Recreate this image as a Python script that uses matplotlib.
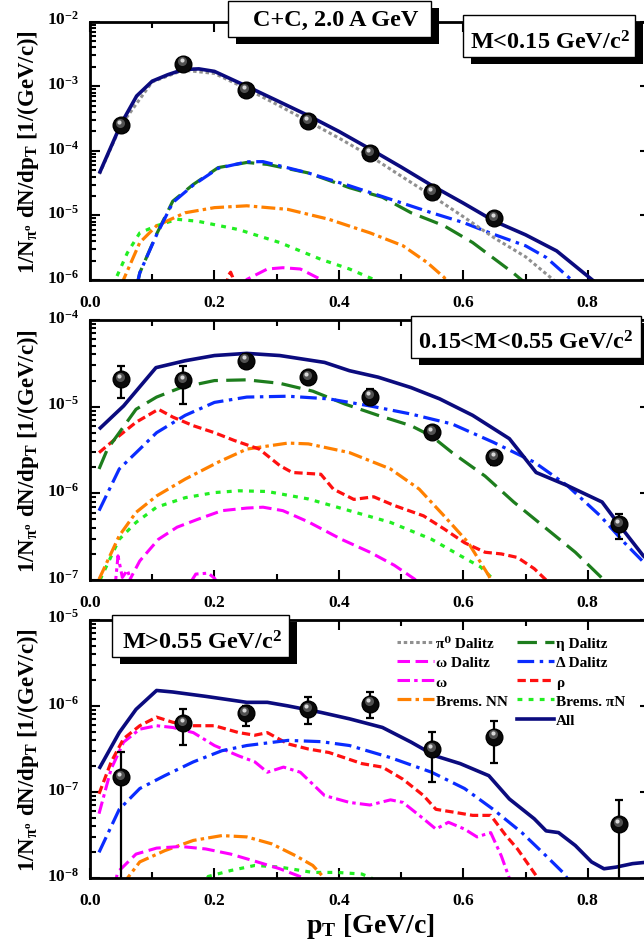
import matplotlib
matplotlib.use("Agg")
import matplotlib.pyplot as plt
import matplotlib.transforms as mtransforms
from matplotlib.lines import Line2D
from matplotlib.patches import Rectangle
from matplotlib.ticker import FixedLocator, LogLocator, LogFormatterMathtext, NullFormatter, FormatStrFormatter

plt.rcParams['font.family'] = ['Liberation Serif', 'DejaVu Serif']
plt.rcParams['font.weight'] = 'bold'
plt.rcParams['mathtext.fontset'] = 'custom'
plt.rcParams['mathtext.rm'] = 'Liberation Serif:bold'
plt.rcParams['mathtext.it'] = 'Liberation Serif:bold'
plt.rcParams['mathtext.bf'] = 'Liberation Serif:bold'
plt.rcParams['axes.unicode_minus'] = False
plt.rcParams['lines.scale_dashes'] = False

# ---------------- data ----------------
data_pt = [0.05, 0.15, 0.25, 0.35, 0.45, 0.55, 0.65, 0.85]

# Panel 1: M < 0.15 GeV/c^2
p1_data_pt = [0.05, 0.15, 0.25, 0.35, 0.45, 0.55, 0.65]
p1_data_y = [2.48e-4, 2.24e-3, 8.75e-4, 2.9e-4, 9.2e-5, 2.3e-5, 9.1e-6]

p1_all_pt = [0.015, 0.05, 0.075, 0.1, 0.125, 0.15, 0.175, 0.2, 0.25, 0.3, 0.35, 0.4, 0.45, 0.5, 0.55, 0.6, 0.65, 0.7, 0.75, 0.81]
p1_all_y = [4.47e-5, 2.63e-4, 7.08e-4, 1.20e-3, 1.51e-3, 1.82e-3, 1.86e-3, 1.70e-3, 1.02e-3, 6.03e-4, 3.55e-4, 2.0e-4, 1.07e-4, 5.62e-5, 2.88e-5, 1.55e-5, 8.13e-6, 5.01e-6, 2.82e-6, 9.55e-7]
p1_pi0_pt = [0.015, 0.05, 0.1, 0.15, 0.2, 0.25, 0.3, 0.35, 0.4, 0.45, 0.5, 0.55, 0.6, 0.65, 0.7, 0.745, 0.77]
p1_pi0_y = [4.37e-5, 2.51e-4, 1.17e-3, 1.78e-3, 1.58e-3, 9.33e-4, 5.25e-4, 2.88e-4, 1.58e-4, 8.32e-5, 4.07e-5, 2.0e-5, 9.55e-6, 4.47e-6, 2.29e-6, 1.0e-6, 6.3e-7]
p1_eta_pt = [0.075, 0.08, 0.107, 0.133, 0.166, 0.206, 0.252, 0.285, 0.35, 0.417, 0.47, 0.516, 0.569, 0.615, 0.68, 0.70]
p1_eta_y = [7.9e-7, 1.29e-6, 5.13e-6, 1.66e-5, 3.02e-5, 5.5e-5, 6.61e-5, 6.17e-5, 4.57e-5, 2.69e-5, 1.91e-5, 1.10e-5, 6.92e-6, 3.80e-6, 1.29e-6, 8.9e-7]
p1_delta_pt = [0.075, 0.08, 0.107, 0.133, 0.166, 0.206, 0.252, 0.278, 0.35, 0.417, 0.483, 0.549, 0.60, 0.648, 0.70, 0.733, 0.773, 0.79]
p1_delta_y = [7.9e-7, 1.29e-6, 5.0e-6, 1.58e-5, 2.95e-5, 5.37e-5, 6.76e-5, 6.81e-5, 4.57e-5, 2.88e-5, 1.78e-5, 1.10e-5, 7.76e-6, 5.13e-6, 3.39e-6, 2.24e-6, 1.02e-6, 7.9e-7]
p1_nn_pt = [0.05, 0.054, 0.08, 0.107, 0.153, 0.2, 0.252, 0.318, 0.384, 0.45, 0.503, 0.542, 0.569, 0.58]
p1_nn_y = [7.9e-7, 1.02e-6, 3.8e-6, 6.92e-6, 1.10e-5, 1.32e-5, 1.41e-5, 1.24e-5, 8.71e-6, 5.37e-6, 3.39e-6, 1.86e-6, 1.10e-6, 7.9e-7]
p1_pin_pt = [0.038, 0.041, 0.06, 0.08, 0.107, 0.14, 0.173, 0.239, 0.305, 0.371, 0.417, 0.456, 0.47]
p1_pin_y = [7.9e-7, 1.02e-6, 2.63e-6, 5.37e-6, 6.92e-6, 8.71e-6, 8.13e-6, 6.03e-6, 3.8e-6, 2.09e-6, 1.48e-6, 1.02e-6, 7.9e-7]
p1_omd_pt = [0.245, 0.252, 0.285, 0.31, 0.338, 0.371, 0.38]
p1_omd_y = [7.9e-7, 1.02e-6, 1.48e-6, 1.55e-6, 1.48e-6, 1.02e-6, 7.9e-7]
p1_rho_pt = [0.218, 0.223, 0.226, 0.229, 0.233]
p1_rho_y = [7.9e-7, 1.2e-6, 1.32e-6, 1.12e-6, 7.9e-7]

# Panel 2: 0.15 < M < 0.55 GeV/c^2
p2_data_y = [2.08e-5, 2.03e-5, 3.4e-5, 2.18e-5, 1.31e-5, 5.06e-6, 2.6e-6, 4.43e-7]
p2_data_hi = [2.97e-5, 2.92e-5, 4.07e-5, 2.4e-5, 1.6e-5, 5.6e-6, 3.1e-6, 5.78e-7]
p2_data_lo = [1.25e-5, 1.07e-5, 2.85e-5, 1.95e-5, 1.07e-5, 4.5e-6, 2.1e-6, 2.97e-7]

p2_all_pt = [0.0145, 0.054, 0.106, 0.153, 0.2, 0.252, 0.305, 0.377, 0.417, 0.463, 0.516, 0.562, 0.615, 0.674, 0.717, 0.767, 0.823, 0.85, 0.889, 0.9]
p2_all_y = [5.5e-6, 1.02e-5, 2.82e-5, 3.39e-5, 3.89e-5, 4.12e-5, 3.89e-5, 3.24e-5, 2.6e-5, 2.19e-5, 1.66e-5, 1.23e-5, 7.94e-6, 4.27e-6, 1.74e-6, 1.23e-6, 7.94e-7, 4.37e-7, 1.91e-7, 1.6e-7]
p2_eta_pt = [0.0145, 0.028, 0.047, 0.074, 0.107, 0.146, 0.2, 0.252, 0.305, 0.358, 0.41, 0.463, 0.516, 0.549, 0.582, 0.635, 0.681, 0.727, 0.78, 0.826, 0.84]
p2_eta_y = [1.91e-6, 3.24e-6, 5.01e-6, 9.33e-6, 1.29e-5, 1.66e-5, 2.0e-5, 2.04e-5, 1.86e-5, 1.51e-5, 1.07e-5, 7.94e-6, 6.03e-6, 4.57e-6, 2.95e-6, 1.58e-6, 7.94e-7, 4.27e-7, 2.09e-7, 1.0e-7, 7.9e-8]
p2_delta_pt = [0.0145, 0.047, 0.08, 0.107, 0.153, 0.2, 0.252, 0.318, 0.384, 0.45, 0.516, 0.582, 0.648, 0.714, 0.767, 0.82, 0.859, 0.9]
p2_delta_y = [6.31e-7, 1.91e-6, 3.24e-6, 5.01e-6, 7.94e-6, 1.12e-5, 1.29e-5, 1.32e-5, 1.23e-5, 1.02e-5, 8.22e-6, 6.31e-6, 3.89e-6, 2.29e-6, 1.23e-6, 5.5e-7, 2.69e-7, 1.35e-7]
p2_rho_pt = [0.0145, 0.047, 0.074, 0.11, 0.133, 0.166, 0.2, 0.232, 0.272, 0.305, 0.325, 0.371, 0.391, 0.424, 0.456, 0.489, 0.536, 0.569, 0.602, 0.635, 0.661, 0.687, 0.714, 0.733, 0.74]
p2_rho_y = [2.95e-6, 4.62e-6, 6.61e-6, 9.33e-6, 7.59e-6, 6.03e-6, 5.01e-6, 4.07e-6, 3.24e-6, 2.09e-6, 1.74e-6, 1.66e-6, 1.12e-6, 8.51e-7, 9.12e-7, 7.24e-7, 5.5e-7, 3.89e-7, 2.69e-7, 2.09e-7, 2.0e-7, 1.82e-7, 1.35e-7, 1.0e-7, 7.9e-8]
p2_nn_pt = [0.0145, 0.047, 0.074, 0.107, 0.153, 0.206, 0.252, 0.318, 0.351, 0.417, 0.483, 0.529, 0.569, 0.608, 0.641, 0.65]
p2_nn_y = [1.02e-7, 3.24e-7, 6.03e-7, 9.33e-7, 1.46e-6, 2.29e-6, 3.24e-6, 3.8e-6, 3.72e-6, 2.95e-6, 1.91e-6, 1.12e-6, 5.5e-7, 2.69e-7, 1.12e-7, 7.9e-8]
p2_pin_pt = [0.016, 0.047, 0.074, 0.107, 0.153, 0.2, 0.239, 0.285, 0.351, 0.417, 0.483, 0.549, 0.595, 0.628, 0.648, 0.66]
p2_pin_y = [1.0e-7, 2.95e-7, 4.62e-7, 6.92e-7, 8.91e-7, 1.02e-6, 1.07e-6, 1.05e-6, 8.61e-7, 6.31e-7, 4.62e-7, 2.95e-7, 1.91e-7, 1.41e-7, 1.02e-7, 7.9e-8]
p2_omd_pt = [0.06, 0.08, 0.11, 0.14, 0.173, 0.212, 0.252, 0.278, 0.31, 0.351, 0.404, 0.45, 0.489, 0.522, 0.535]
p2_omd_y = [8.9e-8, 1.66e-7, 2.95e-7, 4.07e-7, 5.01e-7, 6.31e-7, 6.76e-7, 6.92e-7, 6.31e-7, 4.68e-7, 2.95e-7, 2.09e-7, 1.48e-7, 1.02e-7, 7.9e-8]
p2_om_pt = [0.04, 0.045, 0.052, 0.06, 0.068, 0.08, 0.15, 0.16, 0.17, 0.19, 0.2, 0.21]
p2_om_y = [8e-8, 1.9e-7, 1.07e-7, 1.3e-7, 9e-8, 5e-8, 5e-8, 9e-8, 1.17e-7, 1.2e-7, 1.05e-7, 8e-8]

# Panel 3: M > 0.55 GeV/c^2
p3_data_y = [1.49e-7, 6.3e-7, 8.2e-7, 9.2e-7, 1.06e-6, 3.16e-7, 4.4e-7, 4.26e-8]
p3_data_hi = [2.9e-7, 9.2e-7, 1.0e-6, 1.26e-6, 1.44e-6, 5.0e-7, 6.7e-7, 8.2e-8]
p3_data_lo = [1e-9, 3.5e-7, 5.8e-7, 6.2e-7, 7.2e-7, 1.32e-7, 2.18e-7, 1e-9]

p3_all_pt = [0.0145, 0.047, 0.074, 0.107, 0.133, 0.186, 0.252, 0.285, 0.318, 0.371, 0.417, 0.47, 0.516, 0.555, 0.595, 0.641, 0.674, 0.714, 0.733, 0.753, 0.78, 0.806, 0.826, 0.846, 0.872, 0.9]
p3_all_y = [1.86e-7, 4.9e-7, 9.12e-7, 1.51e-6, 1.45e-6, 1.29e-6, 1.1e-6, 1.1e-6, 1.0e-6, 8.41e-7, 7.08e-7, 5.62e-7, 3.8e-7, 2.63e-7, 2.14e-7, 1.55e-7, 8.32e-8, 4.9e-8, 3.55e-8, 3.39e-8, 2.4e-8, 1.55e-8, 1.29e-8, 1.35e-8, 1.48e-8, 1.55e-8]
p3_rho_pt = [0.0145, 0.034, 0.054, 0.08, 0.107, 0.133, 0.166, 0.2, 0.239, 0.265, 0.285, 0.318, 0.351, 0.384, 0.437, 0.47, 0.503, 0.536, 0.556, 0.582, 0.615, 0.644, 0.668, 0.687, 0.72, 0.73]
p3_rho_y = [9.55e-8, 2.24e-7, 4.17e-7, 5.89e-7, 7.41e-7, 6.46e-7, 5.89e-7, 5.89e-7, 4.9e-7, 4.57e-7, 4.9e-7, 3.63e-7, 3.16e-7, 2.88e-7, 2.14e-7, 1.95e-7, 1.41e-7, 9.12e-8, 6.31e-8, 5.89e-8, 5.37e-8, 5.37e-8, 3.16e-8, 2.19e-8, 1.0e-8, 7.9e-9]
p3_om_pt = [0.0145, 0.034, 0.054, 0.08, 0.107, 0.133, 0.166, 0.2, 0.239, 0.265, 0.285, 0.311, 0.338, 0.377, 0.417, 0.45, 0.483, 0.503, 0.536, 0.556, 0.576, 0.602, 0.622, 0.644, 0.661, 0.674, 0.68]
p3_om_y = [5.62e-8, 1.86e-7, 3.8e-7, 5.37e-7, 5.89e-7, 5.62e-7, 4.9e-7, 3.47e-7, 2.63e-7, 2.24e-7, 1.7e-7, 1.95e-7, 1.7e-7, 9.12e-8, 7.59e-8, 7.08e-8, 8.13e-8, 7.59e-8, 4.9e-8, 3.72e-8, 4.47e-8, 3.72e-8, 3.02e-8, 3.39e-8, 1.82e-8, 1.0e-8, 7.9e-9]
p3_delta_pt = [0.0145, 0.047, 0.08, 0.12, 0.166, 0.212, 0.252, 0.318, 0.371, 0.417, 0.483, 0.549, 0.602, 0.648, 0.694, 0.733, 0.76, 0.767, 0.775]
p3_delta_y = [2.0e-8, 6.31e-8, 1.1e-7, 1.55e-7, 2.24e-7, 3.02e-7, 3.47e-7, 3.98e-7, 3.85e-7, 3.47e-7, 2.51e-7, 1.7e-7, 1.1e-7, 6.31e-8, 3.39e-8, 1.82e-8, 1.17e-8, 1.0e-8, 7.9e-9]
p3_omd_pt = [0.04, 0.044, 0.074, 0.107, 0.146, 0.186, 0.226, 0.265, 0.305, 0.345, 0.355]
p3_omd_y = [7.9e-9, 1.17e-8, 1.91e-8, 2.24e-8, 2.34e-8, 2.19e-8, 1.91e-8, 1.58e-8, 1.29e-8, 1.0e-8, 7.9e-9]
p3_nn_pt = [0.055, 0.06, 0.08, 0.12, 0.166, 0.212, 0.252, 0.292, 0.331, 0.358, 0.377, 0.385]
p3_nn_y = [7.9e-9, 1.0e-8, 1.55e-8, 2.09e-8, 2.75e-8, 3.13e-8, 3.02e-8, 2.51e-8, 1.82e-8, 1.41e-8, 1.0e-8, 7.9e-9]
p3_pin_pt = [0.18, 0.19, 0.226, 0.265, 0.305, 0.358, 0.397, 0.437, 0.453, 0.46]
p3_pin_y = [7.9e-9, 1.05e-8, 1.23e-8, 1.41e-8, 1.35e-8, 1.17e-8, 1.17e-8, 1.12e-8, 1.0e-8, 7.9e-9]

x_ticks = [0.0, 0.2, 0.4, 0.6, 0.8]
legend_labels = ["\u03c0\u2070 Dalitz", "\u03c9 Dalitz", "\u03c9", "Brems. NN", " ",
                 "\u03b7 Dalitz", "\u0394 Dalitz", "\u03c1", "Brems. \u03c0N", "All"]

# ---------------- styles ----------------
ST = {
    'pi0':   dict(color='#909090', lw=2.2, dashes=(2.5, 2.0)),
    'eta':   dict(color='#1d7d1d', lw=2.3, dashes=(14, 6)),
    'delta': dict(color='#0a2cff', lw=2.3, dashes=(12, 4, 2.5, 4)),
    'omd':   dict(color='#ff00ff', lw=2.2, dashes=(9, 4)),
    'om':    dict(color='#ff00ff', lw=2.2, dashes=(9, 3, 2.5, 3)),
    'rho':   dict(color='#ff1010', lw=2.3, dashes=(6, 3)),
    'nn':    dict(color='#ff8000', lw=2.3, dashes=(10, 3, 2.5, 3)),
    'pin':   dict(color='#22ee22', lw=2.3, dashes=(3.5, 4.5)),
    'all':   dict(color='#0b0b7e', lw=2.6, linestyle='-'),
}

W, H = 644, 945
fig = plt.figure(figsize=(W / 100, H / 100), dpi=100)

def px_rect(x0, y0, x1, y1):
    return [x0 / W, 1 - y1 / H, (x1 - x0) / W, (y1 - y0) / H]

ax1 = fig.add_axes(px_rect(90, 22.7, 650, 281))
ax2 = fig.add_axes(px_rect(90, 321, 650, 581))
ax3 = fig.add_axes(px_rect(90, 620.7, 650, 879.3))

def style_axis(ax, ylo, yhi):
    ax.set_yscale('log')
    ax.set_xlim(0, 0.9)
    ax.set_ylim(ylo, yhi)
    ax.xaxis.set_major_locator(FixedLocator(x_ticks))
    ax.xaxis.set_minor_locator(FixedLocator([0.1, 0.3, 0.5, 0.7, 0.9]))
    ax.xaxis.set_major_formatter(FormatStrFormatter('%.1f'))
    ax.yaxis.set_major_locator(LogLocator(base=10, numticks=20))
    ax.yaxis.set_minor_locator(LogLocator(base=10, subs=range(2, 10), numticks=20))
    ax.yaxis.set_major_formatter(LogFormatterMathtext())
    ax.yaxis.set_minor_formatter(NullFormatter())
    ax.tick_params(which='both', direction='in', top=True, right=True, width=1.5)
    ax.tick_params(which='minor', axis='y', right=False)
    ax.tick_params(which='major', length=7.5)
    ax.tick_params(which='minor', length=4.5)
    ax.tick_params(axis='x', labelsize=12.5, pad=10)
    ax.tick_params(axis='y', labelsize=12.5, pad=8)
    for s in ax.spines.values():
        s.set_linewidth(2.0)
    ax.set_ylabel(r"1/N$_{\pi^o}$ dN/dp$_T$ [1/(GeV/c)]", fontsize=16.5, fontweight='bold')
    ax.yaxis.set_label_coords(-0.088, 0.5)
    off = mtransforms.ScaledTranslation(0, 0.045, fig.dpi_scale_trans)
    for lab in ax.get_yticklabels():
        lab.set_transform(lab.get_transform() + off)

def curve(ax, x, y, key):
    kw = dict(ST[key])
    ax.plot(x, y, solid_capstyle='butt', dash_capstyle='butt', **kw)

def balls(ax, x, y, lo=None, hi=None):
    if lo is not None:
        ylo = [v - l for v, l in zip(y, lo)]
        yhi = [h - v for v, h in zip(y, hi)]
        ax.errorbar(x, y, yerr=[ylo, yhi], fmt='none', ecolor='black', elinewidth=1.6,
                    capsize=3.2, capthick=1.6, zorder=5)
    ax.plot(x, y, 'o', ms=12, color='#0a0a0a', mec='#000000', zorder=6)
    t1 = ax.transData + mtransforms.ScaledTranslation(-0.8 / 72, 1.6 / 72, fig.dpi_scale_trans)
    t2 = ax.transData + mtransforms.ScaledTranslation(-1.3 / 72, 2.4 / 72, fig.dpi_scale_trans)
    ax.plot(x, y, 'o', ms=6.5, color='#5a5a5a', mew=0, transform=t1, zorder=7, alpha=0.9)
    ax.plot(x, y, 'o', ms=3.0, color='#d8d8d8', mew=0, transform=t2, zorder=8)

# Panel 1
style_axis(ax1, 1e-6, 1e-2)
curve(ax1, p1_pin_pt, p1_pin_y, 'pin')
curve(ax1, p1_nn_pt, p1_nn_y, 'nn')
curve(ax1, p1_omd_pt, p1_omd_y, 'omd')
curve(ax1, p1_rho_pt, p1_rho_y, 'rho')
curve(ax1, p1_eta_pt, p1_eta_y, 'eta')
curve(ax1, p1_delta_pt, p1_delta_y, 'delta')
curve(ax1, p1_pi0_pt, p1_pi0_y, 'pi0')
curve(ax1, p1_all_pt, p1_all_y, 'all')
balls(ax1, p1_data_pt, p1_data_y)

# Panel 2
style_axis(ax2, 1e-7, 1e-4)
curve(ax2, p2_pin_pt, p2_pin_y, 'pin')
curve(ax2, p2_nn_pt, p2_nn_y, 'nn')
curve(ax2, p2_omd_pt, p2_omd_y, 'omd')
curve(ax2, p2_om_pt, p2_om_y, 'om')
curve(ax2, p2_rho_pt, p2_rho_y, 'rho')
curve(ax2, p2_eta_pt, p2_eta_y, 'eta')
curve(ax2, p2_delta_pt, p2_delta_y, 'delta')
curve(ax2, p2_all_pt, p2_all_y, 'all')
balls(ax2, data_pt, p2_data_y, p2_data_lo, p2_data_hi)

# Panel 3
style_axis(ax3, 1e-8, 1e-5)
curve(ax3, p3_pin_pt, p3_pin_y, 'pin')
curve(ax3, p3_nn_pt, p3_nn_y, 'nn')
curve(ax3, p3_omd_pt, p3_omd_y, 'omd')
curve(ax3, p3_om_pt, p3_om_y, 'om')
curve(ax3, p3_rho_pt, p3_rho_y, 'rho')
curve(ax3, p3_delta_pt, p3_delta_y, 'delta')
curve(ax3, p3_all_pt, p3_all_y, 'all')
balls(ax3, data_pt, p3_data_y, p3_data_lo, p3_data_hi)
ax3.set_xlabel(r"p$_T$ [GeV/c]", fontsize=20, fontweight='bold', labelpad=2)

# Legend
keys = ['pi0', 'omd', 'om', 'nn', None, 'eta', 'delta', 'rho', 'pin', 'all']
handles = []
for k in keys:
    if k is None:
        handles.append(Line2D([], [], color='none'))
    else:
        handles.append(Line2D([], [], **ST[k]))
leg = ax3.legend(handles, legend_labels, ncol=2, loc='upper left',
                 bbox_to_anchor=(0.548, 0.935), frameon=False,
                 prop={'family': ['Liberation Serif', 'DejaVu Serif'], 'weight': 'bold', 'size': 11},
                 handlelength=2.4, handletextpad=0.15, columnspacing=0.6,
                 labelspacing=0.36, borderpad=0, borderaxespad=0)

# Label boxes with drop shadows (pixel coordinates, top origin)
def label_box(x0, y0, x1, y1, text, tx, tbase, dx=8, dy=7, size=17.5):
    sh = Rectangle((( x0 + dx) / W, 1 - (y1 + dy) / H), (x1 - x0) / W, (y1 - y0) / H,
                   transform=fig.transFigure, facecolor='black', edgecolor='none', zorder=10)
    bx = Rectangle((x0 / W, 1 - y1 / H), (x1 - x0) / W, (y1 - y0) / H,
                   transform=fig.transFigure, facecolor='white', edgecolor='black', lw=1.0, zorder=11)
    fig.add_artist(sh)
    fig.add_artist(bx)
    fig.text(tx / W, 1 - tbase / H, text, ha='center', va='baseline', fontsize=size,
             fontweight='bold', zorder=12)

label_box(228, 1.7, 431, 38, "C+C, 2.0 A GeV", 336, 26)
label_box(463, 16, 635, 58, r"M<0.15 GeV/c$^2$", 550, 49)
label_box(411, 317, 641, 359, r"0.15<M<0.55 GeV/c$^2$", 526, 350)
label_box(112, 616, 289, 658, r"M>0.55 GeV/c$^2$", 202, 649)

fig.savefig("out.png", dpi=100)
